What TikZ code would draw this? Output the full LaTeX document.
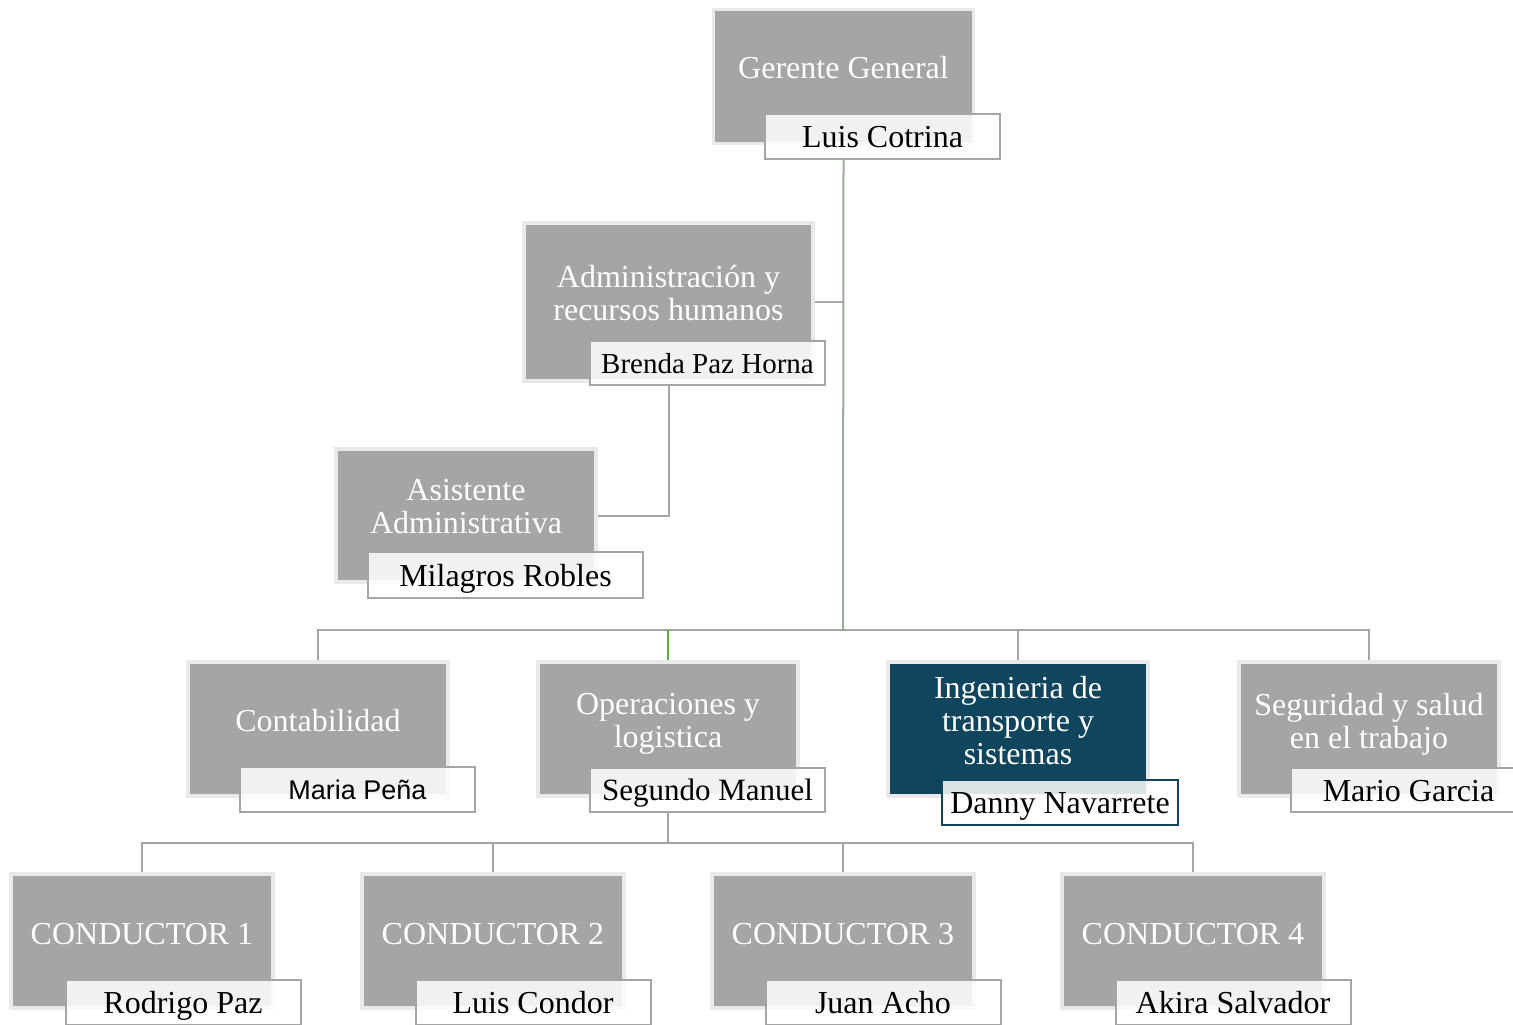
\documentclass[tikz,border=0pt]{standalone}
\usepackage{fontspec}
\setmainfont{Liberation Serif}
\newfontfamily\namesans{Liberation Sans}
\definecolor{boxgray}{HTML}{A5A5A5}
\definecolor{boxedge}{HTML}{E9E9E9}
\definecolor{namegray}{HTML}{A5A5A5}
\definecolor{hiblue}{HTML}{10455E}
\definecolor{linegray}{HTML}{A5A5A5}
\definecolor{linegreengray}{HTML}{9DAA9D}
\definecolor{linegreen}{HTML}{5DAE3B}
\begin{document}
\begin{tikzpicture}[x=0.5pt,y=-0.5pt,
  box/.style={draw=boxedge,line width=1.6pt,fill=boxgray,inner sep=0pt,minimum width=130pt,minimum height=67pt},
  hibox/.style={box,fill=hiblue},
  wtext/.style={text=white,align=center,font=\fontsize{16}{16.5}\selectfont,inner sep=0pt},
  namebox/.style={draw=namegray,line width=1pt,fill=white,fill opacity=0.85,text opacity=1,draw opacity=1,text=black,font=\fontsize{16}{18}\selectfont,minimum width=117.5pt,minimum height=22.5pt,inner sep=0pt,text height=14pt,text depth=3pt},
  conn/.style={draw=linegray,line width=1pt},
]
\useasboundingbox (0,0) rectangle (1513,1024);
% main boxes
\node[box] (gg) at (843.5,76.5) {};
\node[box,minimum width=144.5pt,minimum height=79pt] (adm) at (668.5,302) {};
\node[box,minimum height=66.5pt] (asis) at (466,515.5) {};
\node[box] (cont) at (318,729) {};
\node[box] (ope) at (668,729) {};
\node[hibox] (ing) at (1018,729) {};
\node[box] (seg) at (1369,729) {};
\node[box,minimum width=131pt] (c1) at (142,941) {};
\node[box,minimum width=131pt] (c2) at (493,941) {};
\node[box,minimum width=131pt] (c3) at (843,941) {};
\node[box,minimum width=131pt] (c4) at (1193,941) {};
% titles
\node[wtext] (ggt) at ([yshift=4.5pt]gg.center) {Gerente General};
\node[wtext] (admt) at ([yshift=4.25pt]adm.center) {Administración y\\recursos humanos};
\node[wtext] (asist) at ([yshift=4.5pt]asis.center) {Asistente\\Administrativa};
\node[wtext] (contt) at ([yshift=4pt]cont.center) {Contabilidad};
\node[wtext] (opet) at ([yshift=2.5pt]ope.center) {Operaciones y\\logistica};
\node[wtext] (ingt) at ([yshift=4pt]ing.center) {Ingenieria de\\transporte y\\sistemas};
\node[wtext] (segt) at ([yshift=2.5pt]seg.center) {Seguridad y salud\\en el trabajo};
\node[wtext] (c1t) at ([yshift=3.5pt]c1.center) {CONDUCTOR 1};
\node[wtext] (c2t) at ([yshift=3.5pt]c2.center) {CONDUCTOR 2};
\node[wtext] (c3t) at ([yshift=3.5pt]c3.center) {CONDUCTOR 3};
\node[wtext] (c4t) at ([yshift=3.5pt]c4.center) {CONDUCTOR 4};
% name boxes
\node[namebox] (ggn) at (882.5,136.5) {Luis Cotrina};
\node[namebox,minimum height=22pt,font=\fontsize{14.5}{17}\selectfont,text height=13pt] (admn) at (707.5,363) {Brenda Paz Horna};
\node[namebox,minimum width=137.5pt,minimum height=23pt] (asisn) at (505.5,575) {Milagros Robles};
\node[namebox,font=\namesans\fontsize{13.5}{16}\selectfont,text height=12.5pt] (contn) at (357.5,789.5) {Maria Peña};
\node[namebox,minimum height=22pt,font=\fontsize{15.5}{17}\selectfont,text height=13.5pt] (open) at (707.5,790) {Segundo Manuel};
\node[namebox,draw=hiblue,minimum width=118pt] (ingn) at (1060,802.5) {Danny Navarrete};
\node[namebox,minimum height=22pt] (segn) at (1408.5,790) {Mario Garcia};
\node[namebox] (c1n) at (183,1002.5) {Rodrigo Paz};
\node[namebox] (c2n) at (533,1002.5) {Luis Condor};
\node[namebox] (c3n) at (883,1002.5) {Juan Acho};
\node[namebox] (c4n) at (1233,1002.5) {Akira Salvador};
% connectors
\coordinate (bus1) at (843,630);
\coordinate (bus2) at (668,843);
\draw[conn,draw=linegreengray] (gg.south |- ggn.south) -- (bus1);
\draw[conn] (adm.east) -- (adm.east -| bus1);
\draw[conn] (adm.south |- admn.south) |- (asis.east);
\draw[conn] (cont.north) |- (ope.north |- bus1);
\draw[conn,draw=linegreengray] (ope.north |- bus1) -- (bus1);
\draw[conn] (bus1) -| (seg.north);
\draw[conn,draw=linegreen] (ope.north |- bus1) -- (ope.north);
\draw[conn] (ing.north |- bus1) -- (ing.north);
\draw[conn] (ope.south |- open.south) -- (bus2);
\draw[conn] (c1.north) |- (bus2) -| (c4.north);
\draw[conn] (c2.north |- bus2) -- (c2.north);
\draw[conn] (c3.north |- bus2) -- (c3.north);
\end{tikzpicture}
\end{document}
